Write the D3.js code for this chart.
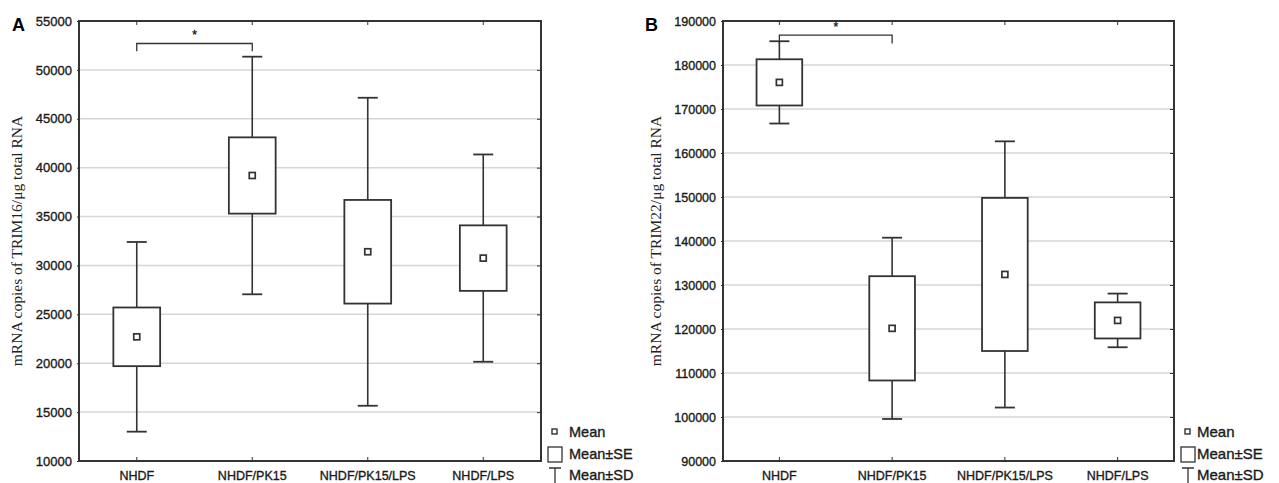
<!DOCTYPE html>
<html>
<head>
<meta charset="utf-8">
<script src="https://cdn.jsdelivr.net/npm/d3@7"></script>
<style>
  body { margin: 0; background: #fff; }
  svg { display: block; }
  .tick line { stroke: #333; }
  .domain { display: none; }
  .lbl { font-family: 'Liberation Sans', Arial, sans-serif; fill: #1a1a1a; stroke: #1a1a1a; stroke-width: 0.35px; }
</style>
</head>
<body>
<div id="staticBody"></div>
<script>
// groups on the x axis
var categories = ["NHDF", "NHDF/PK15", "NHDF/PK15/LPS", "NHDF/LPS"];

// panel A : TRIM16
var trim16Mean = [22700, 39200, 31400, 30750];
var trim16SE   = [3000, 3900, 5300, 3350];
var trim16SD   = [9700, 12150, 15750, 10600];
var trim16Ticks = [10000, 15000, 20000, 25000, 30000, 35000, 40000, 45000, 50000, 55000];

// panel B : TRIM22
var trim22Mean = [176050, 120150, 132400, 121950];
var trim22SE   = [5250, 11850, 17400, 4100];
var trim22SD   = [9350, 20600, 30250, 6100];
var trim22Ticks = [90000, 100000, 110000, 120000, 130000, 140000, 150000, 160000, 170000, 180000, 190000];

var legendLabels = ["Mean", "Mean\u00b1SE", "Mean\u00b1SD"];

var W = 1279, H = 483;
var ink = "#333";

var svg = d3.select("#staticBody").append("svg")
    .attr("width", W).attr("height", H);

function drawPanel(p) {
    var g = svg.append("g");

    var x = d3.scaleBand().domain(categories).range([p.left, p.right]);
    var y = d3.scaleLinear().domain(d3.extent(p.ticks)).range([p.bottom, p.top]);

    // grid
    g.selectAll(".grid").data(p.ticks.slice(1, -1)).enter().append("line")
        .attr("x1", p.left).attr("x2", p.right)
        .attr("y1", function(d){ return y(d); }).attr("y2", function(d){ return y(d); })
        .attr("stroke", "#d6d6d6").attr("stroke-width", 1.5);

    // frame
    g.append("rect")
        .attr("x", p.left).attr("y", p.top)
        .attr("width", p.right - p.left).attr("height", p.bottom - p.top)
        .attr("fill", "none").attr("stroke", ink).attr("stroke-width", 2);

    // left axis with labels
    g.append("g")
        .attr("transform", "translate(" + p.left + ",0)")
        .call(d3.axisLeft(y).tickValues(p.ticks).tickSize(2).tickPadding(5).tickFormat(d3.format("d")))
        .selectAll("text")
        .attr("class", "lbl")
        .style("font-size", p.tickFont + "px");

    // right inner ticks
    g.append("g")
        .attr("transform", "translate(" + p.right + ",0)")
        .call(d3.axisLeft(y).tickValues(p.ticks.slice(1, -1)).tickSize(4).tickFormat(""));

    // top inner ticks
    g.append("g")
        .attr("transform", "translate(0," + p.top + ")")
        .call(d3.axisBottom(x).tickSize(4).tickFormat(""));

    // bottom inner ticks
    g.append("g")
        .attr("transform", "translate(0," + p.bottom + ")")
        .call(d3.axisTop(x).tickSize(4).tickFormat(""));

    // category labels
    g.append("g")
        .attr("transform", "translate(0," + p.bottom + ")")
        .call(d3.axisBottom(x).tickSize(0).tickPadding(10))
        .selectAll("text")
        .attr("class", "lbl")
        .style("font-size", "12.5px");

    var bw = x.bandwidth();
    var boxW = bw * 0.405, capW = 20;
    var rows = categories.map(function(c, i){
        return { cat: c, mean: p.mean[i], se: p.se[i], sd: p.sd[i] };
    });

    var grp = g.selectAll(".grp").data(rows).enter().append("g")
        .attr("transform", function(d){ return "translate(" + (x(d.cat) + bw / 2) + ",0)"; });

    // SD whiskers
    grp.append("line")
        .attr("x1", 0).attr("x2", 0)
        .attr("y1", function(d){ return y(d.mean + d.sd); })
        .attr("y2", function(d){ return y(d.mean - d.sd); })
        .attr("stroke", ink).attr("stroke-width", 1.6);
    grp.append("line")
        .attr("x1", -capW / 2).attr("x2", capW / 2)
        .attr("y1", function(d){ return y(d.mean + d.sd); })
        .attr("y2", function(d){ return y(d.mean + d.sd); })
        .attr("stroke", ink).attr("stroke-width", 1.8);
    grp.append("line")
        .attr("x1", -capW / 2).attr("x2", capW / 2)
        .attr("y1", function(d){ return y(d.mean - d.sd); })
        .attr("y2", function(d){ return y(d.mean - d.sd); })
        .attr("stroke", ink).attr("stroke-width", 1.8);

    // SE box
    grp.append("rect")
        .attr("x", -boxW / 2).attr("width", boxW)
        .attr("y", function(d){ return y(d.mean + d.se); })
        .attr("height", function(d){ return y(d.mean - d.se) - y(d.mean + d.se); })
        .attr("fill", "#fff").attr("stroke", ink).attr("stroke-width", 1.8);

    // mean marker
    grp.append("rect")
        .attr("x", -3).attr("width", 6)
        .attr("y", function(d){ return y(d.mean) - 3; }).attr("height", 6)
        .attr("fill", "#fff").attr("stroke", ink).attr("stroke-width", 1.7);

    // significance bracket
    var b = p.bracket;
    var bx1 = x(categories[b.from]) + bw / 2, bx2 = x(categories[b.to]) + bw / 2;
    g.append("path")
        .attr("d", "M" + bx1 + "," + y(b.y - b.drop) + "V" + y(b.y) + "H" + bx2 + "V" + y(b.y - b.drop))
        .attr("fill", "none").attr("stroke", ink).attr("stroke-width", 1.3);
    g.append("text")
        .attr("class", "lbl")
        .attr("x", (bx1 + bx2) / 2).attr("y", y(b.y) - 4)
        .attr("text-anchor", "middle")
        .style("font-size", "12px")
        .text("*");

    // panel letter
    g.append("text")
        .attr("x", p.letterX).attr("y", p.top + 10)
        .style("font-family", "'Liberation Sans', Arial, sans-serif")
        .style("font-weight", "bold").style("font-size", "18px")
        .text(p.letter);

    // y title
    g.append("text")
        .attr("transform", "translate(" + p.titleX + "," + ((p.top + p.bottom) / 2) + ") rotate(-90)")
        .attr("text-anchor", "middle")
        .style("font-family", "'Liberation Serif', 'Times New Roman', serif")
        .style("font-size", "15.5px").attr("fill", "#222")
        .text(p.title);

    // legend
    var lg = g.append("g");
    var lx = p.legendX, tx = p.legendTextX;
    lg.append("rect")
        .attr("x", lx + 4).attr("y", 429).attr("width", 5).attr("height", 5)
        .attr("fill", "#fff").attr("stroke", ink).attr("stroke-width", 1.4);
    lg.append("rect")
        .attr("x", lx).attr("y", 447).attr("width", 14).attr("height", 15)
        .attr("fill", "#fff").attr("stroke", ink).attr("stroke-width", 1.3);
    lg.append("path")
        .attr("d", "M" + (lx + 1) + ",468H" + (lx + 13) + "M" + (lx + 7) + ",468V483")
        .attr("fill", "none").attr("stroke", ink).attr("stroke-width", 1.3);
    lg.selectAll("text").data(legendLabels).enter().append("text")
        .attr("class", "lbl")
        .attr("x", tx)
        .attr("y", function(d, i){ return 437 + i * 21.5; })
        .style("font-size", p.legendFont + "px")
        .text(function(d){ return d; });
}

drawPanel({
    left: 79, right: 541, top: 21, bottom: 461,
    ticks: trim16Ticks, mean: trim16Mean, se: trim16SE, sd: trim16SD,
    tickFont: 13,
    bracket: { from: 0, to: 1, y: 52700, drop: 800 },
    letter: "A", letterX: 12, titleX: 22,
    title: "mRNA copies of TRIM16/\u03bcg total RNA",
    legendX: 548, legendTextX: 569, legendFont: 14.5
});

drawPanel({
    left: 723, right: 1174, top: 21, bottom: 461,
    ticks: trim22Ticks, mean: trim22Mean, se: trim22SE, sd: trim22SD,
    tickFont: 12.5,
    bracket: { from: 0, to: 1, y: 186800, drop: 1900 },
    letter: "B", letterX: 645, titleX: 661,
    title: "mRNA copies of TRIM22/\u03bcg total RNA",
    legendX: 1181, legendTextX: 1197, legendFont: 15
});
</script>
</body>
</html>
